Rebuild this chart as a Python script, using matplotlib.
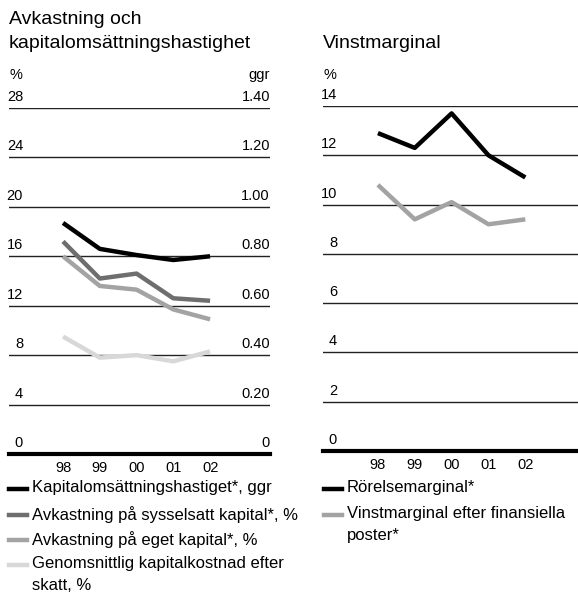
import matplotlib.pyplot as plt
import matplotlib.transforms as mtransforms
from matplotlib.lines import Line2D

plt.rcParams['font.family'] = ['Liberation Sans', 'DejaVu Sans']

# data
years = ['98', '99', '00', '01', '02']
kapitalomsattning = [0.935, 0.83, 0.805, 0.785, 0.80]     # ggr (right axis)
avk_sysselsatt = [17.2, 14.2, 14.6, 12.6, 12.4]           # %
avk_eget = [16.0, 13.6, 13.3, 11.7, 10.9]                 # %
kapitalkostnad = [9.5, 7.8, 8.0, 7.5, 8.3]                # %

rorelsemarginal = [12.9, 12.3, 13.7, 12.0, 11.1]
vinstmarginal = [10.8, 9.4, 10.1, 9.2, 9.4]

left_ticks = [0, 4, 8, 12, 16, 20, 24, 28]
left_ticks_ggr = ['0', '0.20', '0.40', '0.60', '0.80', '1.00', '1.20', '1.40']
right_ticks = [0, 2, 4, 6, 8, 10, 12, 14]

c_black = '#000000'
c_dark = '#6e6e6e'
c_mid = '#a3a3a3'
c_light = '#d8d8d8'

W, H = 578, 593
fig = plt.figure(figsize=(W / 100, H / 100), dpi=100)

TICK_FS = 10.5
LEG_FS = 12


def px_axes(x0, y0, x1, y1):
    return fig.add_axes([x0 / W, 1 - y1 / H, (x1 - x0) / W, (y1 - y0) / H])


def style_axis(ax, ticks, xlim):
    ax.set_xlim(*xlim)
    ax.set_ylim(ticks[0], ticks[-1])
    for s in ax.spines.values():
        s.set_visible(False)
    ax.set_yticks(ticks)
    ax.set_yticklabels([])
    ax.tick_params(axis='y', length=0)
    ax.grid(True, axis='y', color='#222222', lw=1.0)
    ax.set_axisbelow(True)
    ax.set_xticks(range(len(years)))
    ax.set_xticklabels(years, fontsize=TICK_FS)
    ax.tick_params(axis='x', length=0, pad=5)
    ax.axhline(ticks[0], color='black', lw=3, clip_on=False)


def tick_texts(ax, ticks, labels, xpos, ha):
    off = mtransforms.ScaledTranslation(0, 11 / 100, fig.dpi_scale_trans)
    tr = ax.get_yaxis_transform() + off
    for t, lab in zip(ticks, labels):
        ax.text(xpos, t, lab, transform=tr, ha=ha, va='center', fontsize=TICK_FS)


# ---- left chart
axL = px_axes(9, 108, 270, 454)
style_axis(axL, left_ticks, (-1.47, 5.63))
tick_texts(axL, left_ticks, [str(t) for t in left_ticks], 0.054, 'right')
tick_texts(axL, left_ticks, left_ticks_ggr, 1.0, 'right')
fig.text(9 / W, 1 - 75 / H, '%', fontsize=TICK_FS, va='center', ha='left')
fig.text(270 / W, 1 - 75 / H, 'ggr', fontsize=TICK_FS, va='center', ha='right')

x = range(len(years))
axL.plot(x, kapitalkostnad, color=c_light, lw=3.2, solid_capstyle='butt', zorder=3)
axL.plot(x, avk_eget, color=c_mid, lw=3.2, solid_capstyle='butt', zorder=4)
axL.plot(x, avk_sysselsatt, color=c_dark, lw=3.2, solid_capstyle='butt', zorder=5)

axL2 = axL.twinx()
axL2.set_ylim(0, 1.40)
axL2.set_yticks([])
for s in axL2.spines.values():
    s.set_visible(False)
axL2.plot(x, kapitalomsattning, color=c_black, lw=3.2, solid_capstyle='butt', zorder=6)

fig.text(9 / W, 1 - 20 / H, 'Avkastning och', fontsize=14, va='center', ha='left')
fig.text(9 / W, 1 - 43 / H, 'kapitalomsättningshastighet', fontsize=14,
         va='center', ha='left')

# ---- right chart
axR = px_axes(323, 106, 578, 451)
style_axis(axR, right_ticks, (-1.49, 5.43))
tick_texts(axR, right_ticks, [str(t) for t in right_ticks], 0.055, 'right')
fig.text(323 / W, 1 - 75 / H, '%', fontsize=TICK_FS, va='center', ha='left')
axR.plot(x, vinstmarginal, color=c_mid, lw=3.2, solid_capstyle='butt', zorder=4)
axR.plot(x, rorelsemarginal, color=c_black, lw=3.2, solid_capstyle='butt', zorder=5)

fig.text(323 / W, 1 - 43 / H, 'Vinstmarginal', fontsize=14, va='center', ha='left')


# ---- legends (drawn by hand so swatch sits on first line of wrapped labels)
def legend_row(x0, y, color, label):
    fig.add_artist(Line2D([x0 / W, (x0 + 18) / W], [1 - y / H, 1 - y / H],
                          color=color, lw=3.2, transform=fig.transFigure))
    fig.text((x0 + 23) / W, 1 - (y - 9) / H, label, fontsize=LEG_FS,
             va='top', ha='left', linespacing=1.55)


legend_row(9, 489, c_black, 'Kapitalomsättningshastiget*, ggr')
legend_row(9, 515, c_dark, 'Avkastning på sysselsatt kapital*, %')
legend_row(9, 540, c_mid, 'Avkastning på eget kapital*, %')
legend_row(9, 565, c_light, 'Genomsnittlig kapitalkostnad efter\nskatt, %')

legend_row(324, 489, c_black, 'Rörelsemarginal*')
legend_row(324, 515, c_mid, 'Vinstmarginal efter finansiella\nposter*')

fig.savefig('out.png', dpi=100)
